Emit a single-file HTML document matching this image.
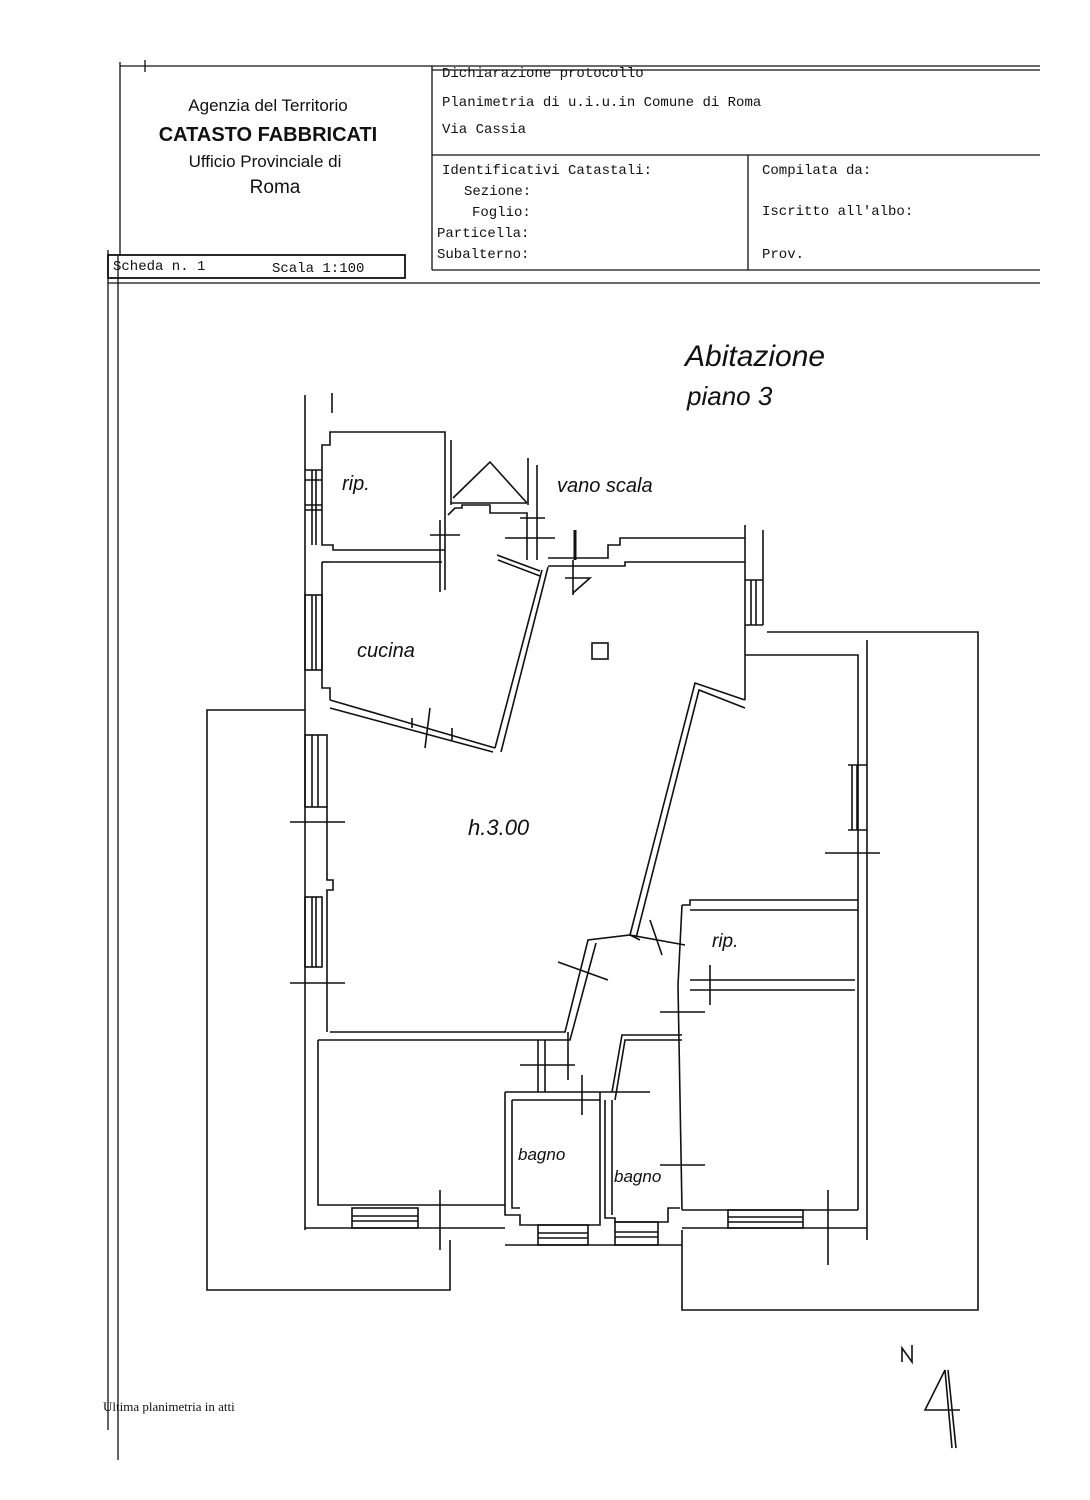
<!DOCTYPE html>
<html><head><meta charset="utf-8"><style>
html,body{margin:0;padding:0;background:#fff}
svg{display:block}
.m{font-family:"Liberation Mono",monospace;font-size:14px;fill:#111}
.s{font-family:"Liberation Sans",sans-serif;fill:#111;text-anchor:middle}
.h{font-family:"Liberation Sans",sans-serif;font-style:italic;fill:#111;font-weight:300}
</style></head><body>
<svg width="1090" height="1500" viewBox="0 0 1090 1500" xmlns="http://www.w3.org/2000/svg">
<g stroke="#111" fill="none" stroke-width="1.3">
<line x1="120" y1="66" x2="1040" y2="66"/>
<line x1="432" y1="70" x2="1040" y2="70"/>
<line x1="120" y1="62" x2="120" y2="255"/>
<line x1="432" y1="66" x2="432" y2="270"/>
<line x1="432" y1="155" x2="1040" y2="155"/>
<line x1="748" y1="155" x2="748" y2="270"/>
<line x1="432" y1="270" x2="1040" y2="270"/>
<line x1="108" y1="283" x2="1040" y2="283"/>
<rect x="108" y="255" width="297" height="23" stroke-width="1.8"/>
<line x1="108" y1="250" x2="108" y2="1430"/>
<line x1="118" y1="255" x2="118" y2="1460"/>
<line x1="145" y1="60" x2="145" y2="72"/>
</g>
<text class="m" x="442" y="77">Dichiarazione protocollo</text>
<text class="m" x="442" y="106">Planimetria di u.i.u.in Comune di Roma</text>
<text class="m" x="442" y="133">Via Cassia</text>
<text class="m" x="442" y="174">Identificativi Catastali:</text>
<text class="m" x="464" y="195">Sezione:</text>
<text class="m" x="472" y="216">Foglio:</text>
<text class="m" x="437" y="237">Particella:</text>
<text class="m" x="437" y="258">Subalterno:</text>
<text class="m" x="762" y="174">Compilata da:</text>
<text class="m" x="762" y="215">Iscritto all'albo:</text>
<text class="m" x="762" y="258">Prov.</text>
<text class="m" x="113" y="270">Scheda n. 1</text>
<text class="m" x="272" y="272">Scala 1:100</text>
<text class="s" x="268" y="111" font-size="17">Agenzia del Territorio</text>
<text class="s" x="268" y="141" font-size="20" font-weight="bold">CATASTO FABBRICATI</text>
<text class="s" x="265" y="167" font-size="17">Ufficio Provinciale di</text>
<text class="s" x="275" y="193" font-size="19">Roma</text>
<text x="103" y="1411" font-family="Liberation Serif,serif" font-size="13" fill="#111">Ultima planimetria in atti</text>

<text class="h" x="685" y="366" font-size="30">Abitazione</text>
<text class="h" x="687" y="405" font-size="26">piano 3</text>
<text class="h" x="342" y="490" font-size="20">rip.</text>
<text class="h" x="557" y="492" font-size="20">vano scala</text>
<text class="h" x="357" y="657" font-size="20">cucina</text>
<text class="h" x="468" y="835" font-size="22">h.3.00</text>
<text class="h" x="712" y="947" font-size="19">rip.</text>
<text class="h" x="518" y="1160" font-size="17">bagno</text>
<text class="h" x="614" y="1182" font-size="17">bagno</text>

<g stroke="#111" fill="none" stroke-width="1.6">
<line x1="305" y1="395" x2="305" y2="1230"/>
<line x1="332" y1="393" x2="332" y2="413"/>
<polyline points="322,470 322,445 330,445 330,432 445,432 445,590"/>
<polyline points="322,470 322,545 333,545 333,550 445,550"/>
<line x1="330" y1="562" x2="442" y2="562"/>
<line x1="440" y1="520" x2="440" y2="592"/>
<line x1="305" y1="470" x2="322" y2="470"/><line x1="305" y1="480" x2="322" y2="480"/>
<line x1="305" y1="505" x2="322" y2="505"/><line x1="305" y1="510" x2="322" y2="510"/>
<line x1="312" y1="470" x2="312" y2="545"/><line x1="316" y1="470" x2="316" y2="545"/>
<line x1="451" y1="440" x2="451" y2="505"/>
<polyline points="453,498 490,462 527,503"/>
<line x1="451" y1="503" x2="527" y2="503"/>
<line x1="528" y1="458" x2="528" y2="505"/>
<polyline points="448,515 455,508 462,508 462,505 490,505 490,513 527,513 527,560"/>
<line x1="537" y1="465" x2="537" y2="560"/>
<line x1="520" y1="518" x2="545" y2="518"/><line x1="505" y1="538" x2="555" y2="538"/>
<line x1="430" y1="535" x2="460" y2="535"/>
<polyline points="322,562 322,688 330,688 330,700"/>
<polyline points="322,562 330,562"/>
<line x1="330" y1="700" x2="495" y2="748"/>
<line x1="330" y1="708" x2="493" y2="752"/>
<line x1="495" y1="748" x2="542" y2="570"/>
<line x1="501" y1="752" x2="548" y2="567"/>
<line x1="497" y1="555" x2="540" y2="571"/>
<line x1="498" y1="560" x2="540" y2="576"/>
<line x1="430" y1="708" x2="425" y2="748"/>
<line x1="412" y1="718" x2="412" y2="728"/><line x1="452" y1="728" x2="452" y2="740"/>
<polyline points="548,558 608,558 608,545 620,545 620,538 745,538"/>
<polyline points="548,566 625,566 625,562 745,562"/>
<line x1="575" y1="530" x2="575" y2="560" stroke-width="3"/>
<line x1="573" y1="560" x2="573" y2="595"/>
<polyline points="565,578 590,578 573,593"/>
<line x1="745" y1="525" x2="745" y2="700"/>
<line x1="763" y1="530" x2="763" y2="625"/>
<line x1="745" y1="580" x2="763" y2="580"/><line x1="745" y1="625" x2="763" y2="625"/>
<line x1="751" y1="580" x2="751" y2="625"/><line x1="756" y1="580" x2="756" y2="625"/>
<rect x="592" y="643" width="16" height="16"/>
<polyline points="745,700 695,683 630,935"/>
<polyline points="745,708 699,690 636,938"/>
<polyline points="767,632 978,632 978,1310 682,1310 682,1230"/>
<polyline points="745,655 858,655 858,1210"/>
<line x1="867" y1="640" x2="867" y2="1240"/>
<line x1="848" y1="765" x2="867" y2="765"/><line x1="848" y1="830" x2="867" y2="830"/>
<line x1="852" y1="765" x2="852" y2="830"/><line x1="857" y1="765" x2="857" y2="830"/>
<line x1="825" y1="853" x2="880" y2="853"/>
<polyline points="305,710 207,710 207,1290 450,1290 450,1240"/>
<rect x="305" y="595" width="17" height="75"/>
<line x1="312" y1="595" x2="312" y2="670"/><line x1="316" y1="595" x2="316" y2="670"/>
<rect x="305" y="735" width="22" height="72"/>
<line x1="312" y1="735" x2="312" y2="807"/><line x1="318" y1="735" x2="318" y2="807"/>
<polyline points="327,807 327,880 333,880 333,890 327,890 327,1032"/>
<line x1="290" y1="822" x2="345" y2="822"/>
<rect x="305" y="897" width="17" height="70"/>
<line x1="312" y1="897" x2="312" y2="967"/><line x1="316" y1="897" x2="316" y2="967"/>
<line x1="290" y1="983" x2="345" y2="983"/>
<polyline points="330,1032 565,1032 588,940 630,935 640,940"/>
<polyline points="318,1040 570,1040 596,943"/>
<line x1="558" y1="962" x2="608" y2="980"/>
<line x1="568" y1="1032" x2="568" y2="1080"/>
<line x1="545" y1="1040" x2="545" y2="1092"/><line x1="538" y1="1040" x2="538" y2="1092"/>
<line x1="520" y1="1065" x2="575" y2="1065"/>
<line x1="650" y1="920" x2="662" y2="955"/>
<line x1="630" y1="935" x2="685" y2="945"/>
<polyline points="682,905 690,905 690,900 858,900"/>
<polyline points="690,910 858,910"/>
<polyline points="682,905 678,985 682,1210"/>
<line x1="690" y1="980" x2="855" y2="980"/><line x1="690" y1="990" x2="855" y2="990"/>
<line x1="710" y1="965" x2="710" y2="1005"/>
<line x1="660" y1="1012" x2="705" y2="1012"/>
<line x1="660" y1="1165" x2="705" y2="1165"/>
<polyline points="682,1210 858,1210"/>
<polyline points="318,1040 318,1205 505,1205"/>
<polyline points="505,1092 505,1215 520,1215 520,1225 600,1225 600,1092"/>
<polyline points="512,1100 512,1208 520,1208"/>
<line x1="505" y1="1092" x2="650" y2="1092"/>
<line x1="512" y1="1100" x2="600" y2="1100"/>
<polyline points="605,1100 605,1218 615,1218 615,1222 668,1222 668,1208 680,1208"/>
<polyline points="612,1100 612,1215"/>
<polyline points="615,1100 625,1040 682,1040"/>
<polyline points="612,1092 622,1035 682,1035"/>
<line x1="582" y1="1075" x2="582" y2="1115"/>
<line x1="305" y1="1228" x2="505" y2="1228"/>
<line x1="505" y1="1245" x2="682" y2="1245"/>
<rect x="352" y="1208" width="66" height="20"/>
<line x1="352" y1="1216" x2="418" y2="1216"/><line x1="352" y1="1221" x2="418" y2="1221"/>
<line x1="440" y1="1190" x2="440" y2="1250"/>
<rect x="538" y="1225" width="50" height="20"/>
<line x1="538" y1="1233" x2="588" y2="1233"/><line x1="538" y1="1238" x2="588" y2="1238"/>
<rect x="615" y="1222" width="43" height="23"/>
<line x1="615" y1="1232" x2="658" y2="1232"/><line x1="615" y1="1237" x2="658" y2="1237"/>
<rect x="728" y="1210" width="75" height="18"/>
<line x1="728" y1="1217" x2="803" y2="1217"/><line x1="728" y1="1222" x2="803" y2="1222"/>
<line x1="828" y1="1190" x2="828" y2="1265"/>
<line x1="682" y1="1228" x2="867" y2="1228"/>
<polyline points="945,1370 925,1410 960,1410"/>
<line x1="945" y1="1370" x2="952" y2="1448"/>
<line x1="948" y1="1370" x2="956" y2="1448"/>
<path d="M902 1362 L902 1348 L912 1362 L912 1345"/>
</g>
</svg>
</body></html>
